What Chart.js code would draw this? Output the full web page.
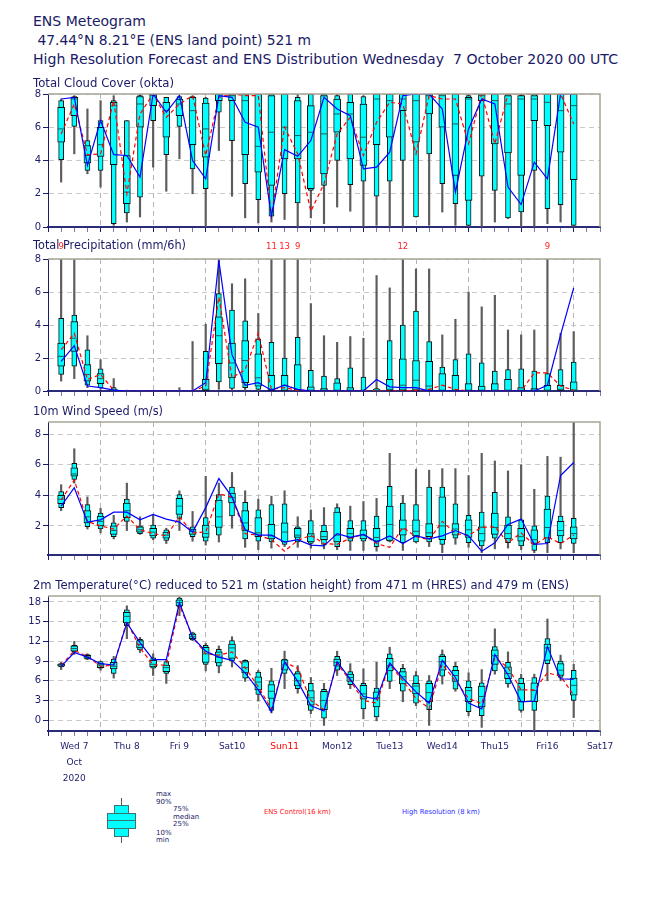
<!DOCTYPE html>
<html>
<head>
<meta charset="utf-8">
<script src="https://cdn.jsdelivr.net/npm/chart.js@4.4.0/dist/chart.umd.min.js"></script>
<style>
body{margin:0;background:#fff;width:650px;height:916px;position:relative;overflow:hidden;font-family:"DejaVu Sans",sans-serif;color:#1a1a66}
.t{position:absolute;white-space:pre;line-height:1;transform-origin:0 0}
canvas{position:absolute;left:0}
.lg{position:absolute;box-sizing:border-box}
.s{position:absolute;font-size:7px;line-height:1;white-space:pre;color:#1a1a66}
</style>
</head>
<body>
<canvas id="cloud" width="650" height="149" style="top:86px"></canvas>
<canvas id="precip" width="650" height="161" style="top:238px"></canvas>
<canvas id="wind" width="650" height="155" style="top:408px"></canvas>
<canvas id="temp" width="650" height="206" style="top:584px"></canvas>

<div class="t" style="left:33px;top:14px;font-size:14px" data-w="113">ENS Meteogram</div>
<div class="t" style="left:33px;top:33px;font-size:14px" data-w="278"> 47.44°N 8.21°E (ENS land point) 521 m</div>
<div class="t" style="left:33px;top:52px;font-size:14px" data-w="585">High Resolution Forecast and ENS Distribution Wednesday  7 October 2020 00 UTC</div>
<div class="t" style="left:33px;top:77px;font-size:12px" data-w="141">Total Cloud Cover (okta)</div>
<div class="t" style="left:33px;top:239px;font-size:12px" data-w="153">Total Precipitation (mm/6h)</div>
<div class="t" style="left:33px;top:405px;font-size:12px" data-w="130">10m Wind Speed (m/s)</div>
<div class="t" style="left:33px;top:579px;font-size:12px" data-w="536">2m Temperature(°C) reduced to 521 m (station height) from 471 m (HRES) and 479 m (ENS)</div>

<div class="lg" style="left:121px;top:798px;width:1px;height:45px;background:#555"></div>
<div class="lg" style="left:114px;top:805px;width:15px;height:9px;background:#00ffff;border:1px solid #3a7272"></div>
<div class="lg" style="left:114px;top:828px;width:15px;height:9px;background:#00ffff;border:1px solid #3a7272"></div>
<div class="lg" style="left:107px;top:813px;width:29px;height:16px;background:#00ffff;border:1px solid #3a7272"></div>
<div class="lg" style="left:107px;top:820px;width:29px;height:1px;background:#3a7272"></div>
<div class="s" style="left:156px;top:791px">max</div>
<div class="s" style="left:156px;top:799px">90%</div>
<div class="s" style="left:173px;top:806px">75%</div>
<div class="s" style="left:173px;top:814px">median</div>
<div class="s" style="left:173px;top:821px">25%</div>
<div class="s" style="left:156px;top:830px">10%</div>
<div class="s" style="left:156px;top:837px">min</div>
<div class="t" style="left:264px;top:809px;font-size:7px;color:#ff2020" data-w="67">ENS Control(16 km)</div>
<div class="t" style="left:402px;top:809px;font-size:7px;color:#3030ff" data-w="78">High Resolution (8 km)</div>

<script>
// forecast steps (hours after 7 Oct 2020 00 UTC)
const hours = [6,12,18,24,30,36,42,48,54,60,66,72,78,84,90,96,102,108,114,120,
               126,132,138,144,150,156,162,168,174,180,186,192,198,204,210,216,222,228,234,240];
const dayNames = ['Wed 7','Thu 8','Fri 9','Sat10','Sun11','Mon12','Tue13','Wed14','Thu15','Fri16','Sat17'];
const firstDayExtra = ['Oct','2020'];

// total cloud cover (okta)
const cloudMin = [2.7,4.4,3.2,2.4,0.1,0.3,0.6,3.6,2.15,4.1, 2.0,0,4.6,1.85,0.55,0.25,0.3,0.45,0,0.55, 0.2,1.2,0.95,0,0.1,0,0,0.6,0.1,0.9, 0.1,0,0,0.3,0.5,0,0,0.2,0.3,0];
const cloudP10 = [4.05,6.05,3.4,3.4,0.2,0.85,1.8,6.4,4.35,6.05, 3.5,2.3,6.9,5.2,2.6,1.65,0.65,2.0,1.45,2.2, 2.5,4.0,2.55,2.75,1.85,2.75,4.0,0.6,4.4,2.6, 1.4,0.1,3.05,2.2,0.55,0.9,3.4,1.1,1.35,0.1];
const cloudP25 = [5.1,6.7,3.85,4.25,3.75,1.4,6.0,7.3,5.4,6.7, 4.95,4.2,7.6,7.6,4.35,3.3,2.5,4.1,4.1,2.3, 3.2,5.7,4.1,3.7,4.95,5.4,7.0,5.1,6.8,6.0, 3.1,1.6,7.6,5.0,4.45,3.1,6.4,6.1,4.5,2.85];
const cloudMed = [5.9,7.7,4.3,4.95,7.3,2.1,7.4,7.9,7.0,7.4, 7.0,5.9,8,7.9,7.6,4.85,5.7,6.0,5.5,5.7, 5.6,6.8,6.8,5.4,7.7,7.6,7.7,7.6,7.9,7.9, 6.2,7.7,7.9,7.6,7.4,7.7,7.7,7.5,7.0,7.3];
const cloudP75 = [7.2,7.8,4.9,6.0,7.5,4.3,7.85,8,7.5,7.7, 7.8,7.45,8,8,8,8,7.9,8,7.6,7.3, 7.9,7.7,7.5,7.4,8,8,8,8,8,8, 8,7.8,8,8,7.9,7.9,7.9,8,8,8];
const cloudP90 = [7.6,7.85,5.2,6.4,7.6,6.4,7.9,8,7.8,7.85, 7.85,7.75,8,8,8,8,8,8,7.8,8, 8,7.9,8,7.85,8,8,8,8,8,8, 8,7.9,8,8,8,7.9,8,8,8,8];
const cloudMax = [7.7,7.9,7.1,7.6,7.9,6.4,8,8,7.8,7.9, 7.9,7.8,8,8,8,8,8,8,8,8, 8,8,8,7.9,8,8,8,8,8,8, 8,8,8,8,8,8,8,8,8,8];
const cloudCtrl = [5.6,7.4,4.35,4.4,7.6,2.0,6.8,8,6.6,7.4, 7.9,4.3,7.8,8,7.9,7.9,0.65,6.0,4.4,0.95, 2.6,5.6,6.6,4.3,6.3,7.5,7.4,4.4,7.9,7.7, 7.7,5.0,8,5.0,8,8,8,8,8,6.2];
const cloudHres = [7.7,7.8,3.7,6.4,4.35,4.3,3.0,8,6.9,7.9, 4.0,2.9,7.9,7.8,6.3,6.0,0.65,4.65,4.25,5.2, 7.8,7.1,6.7,3.5,3.6,4.5,7.9,8,8,7.1, 2.1,5.9,7.7,7.4,2.4,1.35,3.9,2.9,8,8];
const cloudTicks = [0,2,4,6,8];

// total precipitation (mm/6h)
const precipMin = [0.6,0.75,0.2,0.1,0,0,0,0,0,0, 0,0,0.1,0.05,0,0,0,0,0,0, 0,0,0,0,0,0,0,0,0,0, 0,0,0,0,0,0,0,0,0,0];
const precipP10 = [1.0,1.5,0.35,0.2,0,0,0,0,0,0, 0,0,0.55,0.15,0.2,0.1,0,0,0,0, 0,0,0,0,0,0,0,0,0,0, 0,0,0,0,0,0,0,0,0,0];
const precipP25 = [1.5,2.4,0.6,0.45,0,0,0,0,0,0, 0,0,1.65,0.8,0.5,0.3,0,0,0,0, 0,0,0,0,0,0,0.05,0.05,0,0, 0,0,0,0,0,0,0,0,0,0];
const precipMed = [2.1,3.2,1.0,0.75,0.05,0,0,0,0,0, 0,0.1,3.35,1.7,1.85,0.8,0.1,0.35,0,0, 0,0,0,0,0,0.1,0.35,0.65,0.3,0, 0,0,0,0,0,0,0,0,0.1,0.05];
const precipP75 = [2.9,4.2,1.6,1.05,0.1,0,0,0,0,0, 0,0.7,4.5,2.9,3.05,2.25,0.95,0.95,1.6,0.25, 0.15,0.5,0.2,0.05,0.1,0.7,1.95,1.85,1.8,1.05, 0.95,0.45,0.3,0.45,0.7,0.2,0.15,0.35,0.35,0.55];
const precipP90 = [4.4,4.6,2.5,1.35,0.2,0,0,0,0,0, 0,2.4,5.9,4.9,4.25,3.15,2.95,2.0,3.25,1.25, 0.9,0.75,1.4,0.85,0.15,3.05,4.0,4.85,3.0,1.45, 1.9,2.25,1.7,1.2,1.3,1.35,1.2,1.05,1.3,1.75];
const precipMax = [9,8.0,3.35,1.9,0.75,0.05,0,0,0,0.2, 3.0,4.05,8.0,6.5,6.8,4.7,11,13,9,5.3, 3.35,2.95,3.3,3.2,7.0,6.25,12,7.4,7.4,3.4, 4.35,6.0,5.1,5.8,3.7,3.4,3.7,9,3.5,3.6];
const precipCtrl = [2.5,3.5,0.7,1.0,0.05,0,0,0,0,0, 0,0.3,5.7,0.8,1.3,3.5,0.1,0.2,0.05,0, 0,0,0,0,0,0,0,0.05,0.1,0.35, 0.1,0,0,0,0,0,1.1,1.1,0.3,0.05];
const precipHres = [1.8,2.75,0.3,0.2,0.05,0,0,0,0,0, 0,0.5,7.9,2.2,0.35,0.5,0.05,0.35,0.1,0, 0,0,0,0,0.7,0.25,0.2,0.2,0,0, 0,0,0,0,0,0,0,0.35,3.4,6.25];
const precipTicks = [0,2,4,6,8];

// 10m wind speed (m/s)
const windMin = [3.0,4.8,1.8,1.55,1.15,1.7,1.45,1.1,0.85,1.7, 1.0,0.75,0.95,1.85,0.6,0.45,0.55,0.65,0.6,0.55, 0.5,0.45,0.4,0.4,0.35,0.95,0.4,0.9,0.65,0.25, 0.8,0.6,0.25,0.5,0.55,0.45,0.25,0.25,0.5,0.25];
const windP10 = [3.2,5.05,1.95,1.8,1.3,2.3,1.5,1.2,1.05,2.5, 1.3,1.0,1.4,2.65,1.15,1.0,0.95,0.8,0.95,0.85, 0.8,0.65,1.0,1.0,0.65,1.0,0.9,0.95,0.95,0.8, 1.2,0.9,0.7,1.2,0.9,0.7,0.4,0.9,0.9,0.85];
const windP25 = [3.45,5.25,2.2,2.0,1.45,2.55,1.6,1.35,1.2,2.75, 1.45,1.25,1.9,3.5,1.7,1.3,1.15,0.95,1.25,0.95, 1.1,0.95,1.2,1.15,1.0,1.05,1.4,1.35,1.3,1.1, 1.4,1.25,1.0,1.45,1.15,1.0,0.85,1.2,1.35,1.15];
const windMed = [3.75,5.4,2.6,2.3,1.7,3.0,1.75,1.6,1.4,3.3, 1.65,1.5,2.6,3.85,2.2,1.55,1.35,1.6,1.4,1.3, 1.3,1.4,1.5,1.4,1.25,2.1,1.8,1.65,1.55,2.0, 1.8,1.75,1.5,1.9,1.5,1.3,1.1,1.9,1.7,1.5];
const windP75 = [4.0,5.8,3.0,2.65,2.0,3.5,1.95,1.85,1.6,3.8, 1.8,2.05,3.7,4.15,3.0,2.55,2.1,2.2,1.85,1.5, 1.65,2.9,1.85,1.75,1.85,3.3,2.4,2.4,2.15,3.9, 2.15,2.4,1.95,2.85,2.05,1.85,1.75,3.1,2.3,1.95];
const windP90 = [4.25,6.1,3.4,2.85,2.2,3.75,2.0,2.05,1.75,4.05, 1.95,2.55,4.05,4.55,3.55,3.05,3.4,3.45,1.95,2.35, 2.05,3.2,2.35,2.35,2.65,4.6,3.5,3.4,4.55,4.55, 3.45,2.7,2.9,4.2,2.6,2.4,2.0,3.95,2.65,2.5];
const windMax = [4.7,7.05,3.9,3.15,2.7,4.8,2.6,2.7,1.85,4.3, 2.95,5.25,4.8,5.5,4.3,3.75,3.95,4.3,2.6,3.05, 3.2,3.45,3.3,3.6,3.8,6.75,4.0,5.7,5.65,5.75, 5.75,5.3,6.75,6.25,5.6,6.0,4.4,6.55,6.5,9.5];
const windCtrl = [3.7,5.0,2.3,2.0,1.8,2.65,1.75,1.5,1.35,2.6, 1.55,1.6,4.1,3.9,1.5,1.4,1.1,0.35,1.05,1.4, 0.85,0.8,1.2,1.45,0.85,0.6,1.9,1.3,1.1,2.3, 1.5,1.4,1.9,1.95,0.9,1.55,0.75,1.3,0.85,1.4];
const windHres = [3.3,4.5,2.25,2.4,2.9,2.9,2.4,2.75,2.45,2.25, 1.6,3.2,5.1,3.9,1.75,1.4,1.4,0.95,1.1,0.75, 0.7,1.5,1.25,1.45,0.95,1.35,0.85,1.35,1.15,1.35, 1.7,1.35,0.35,0.9,2.1,2.45,0.8,0.85,5.3,6.15];
const windTicks = [2,4,6,8];

// 2m temperature (°C)
const tempMin = [7.7,10.0,9.2,7.6,6.4,12.4,10.3,6.8,5.6,15.9, 12.1,7.5,7.2,8.1,5.9,2.9,1.1,4.8,4.1,1.0, -0.8,6.8,4.8,0.2,-0.1,4.8,2.8,2.2,-0.8,5.5, 4.4,0.7,-1.1,7.0,5.0,1.2,-1.7,6.0,6.0,0.4];
const tempP10 = [8.1,10.4,9.3,7.9,7.1,14.4,10.7,7.9,7.1,17.2, 12.2,8.5,8.2,9.0,6.4,3.9,1.5,7.1,4.8,1.5, 0.3,7.6,5.4,1.7,0.5,5.9,4.4,2.6,1.6,6.7, 4.7,1.3,0.7,7.5,5.5,1.5,1.5,8.6,6.5,3.0];
const tempP25 = [8.2,10.5,9.4,8.0,7.8,14.8,11.0,8.1,7.4,17.4, 12.4,8.8,8.7,9.4,7.2,4.6,3.3,7.6,5.2,2.3, 1.6,8.2,5.9,3.2,2.0,7.5,5.5,4.0,2.8,7.6, 5.9,2.8,2.0,8.5,6.3,2.8,2.8,9.1,6.8,3.8];
const tempMed = [8.4,10.9,9.6,8.4,8.2,15.8,11.5,8.5,8.0,17.9, 12.7,10.1,9.6,11.0,8.0,5.8,4.4,8.4,6.0,3.4, 3.0,8.8,6.5,4.0,3.4,8.3,6.6,5.2,4.2,8.9, 6.8,4.5,3.6,9.8,7.1,4.6,4.5,11.0,7.6,5.3];
const tempP75 = [8.55,11.3,9.85,8.6,8.8,16.4,12.1,9.1,8.4,18.3, 13.1,11.1,10.4,11.6,8.9,6.6,5.4,9.2,7.1,4.5, 4.4,9.3,7.0,5.3,4.3,9.4,7.4,5.6,5.6,9.7, 7.6,5.0,5.2,10.7,8.1,5.6,5.7,11.6,8.6,6.4];
const tempP90 = [8.6,11.4,10.0,8.9,9.3,16.8,12.3,9.5,8.9,18.6, 13.3,11.4,10.8,12.1,9.1,7.3,6.0,9.3,7.4,5.6, 4.7,9.7,7.4,5.6,4.9,10.1,7.9,6.8,6.0,10.0, 8.2,6.0,5.7,11.2,8.8,6.4,6.5,12.4,9.0,7.6];
const tempMax = [8.8,12.0,10.1,9.0,9.7,17.4,12.6,10.1,9.1,18.8, 13.4,11.7,11.3,12.7,9.2,7.6,7.9,10.5,8.3,6.5, 5.6,10.5,8.6,7.8,8.8,11.1,8.5,7.4,6.8,10.7, 8.8,7.2,7.7,13.9,10.4,7.0,7.0,15.4,9.9,8.5];
const tempCtrl = [8.3,10.6,9.7,8.2,8.4,15.0,11.0,8.4,8.4,17.5, 12.7,10.1,9.9,10.4,8.0,5.1,1.7,8.8,7.9,3.0, 1.6,8.6,6.0,3.0,2.6,8.5,6.0,3.3,1.8,8.5, 6.0,3.3,2.5,9.5,8.0,4.6,4.6,7.2,6.7,3.8];
const tempHres = [8.2,10.3,9.6,8.6,8.4,14.8,11.8,9.2,9.2,17.9, 12.6,10.5,9.6,9.1,7.2,4.6,1.3,8.9,5.9,2.2, 1.4,8.9,6.2,3.6,3.2,8.7,6.4,4.3,2.6,9.1, 6.5,2.6,1.7,10.0,6.9,2.8,2.9,11.2,6.3,6.2];
const tempTicks = [0,3,6,9,12,15,18];

const NAVY = '#1c1c6c';
const xTicks = [];
for (let h = 0; h <= 252; h += 6) xTicks.push(h);

const pts = arr => hours.map((h, i) => ({x: h, y: arr[i]}));
const rng = (a, b) => hours.map((h, i) => ({x: h, y: [a[i], b[i]]}));

function boxSets(mn, p10, p25, med, p75, p90, mx, ctrl, hres) {
    return [
        {type: 'bar', data: rng(mn, mx), backgroundColor: '#5c5c5c', barThickness: 1.5, grouped: false, clip: 0, order: 6},
        {type: 'bar', data: rng(p10, p90), backgroundColor: '#00ffff', borderColor: '#111', borderWidth: 1,
         borderSkipped: false, barThickness: 5, grouped: false, clip: 0, order: 5},
        {type: 'bar', data: rng(p25, p75), backgroundColor: '#00ffff', borderColor: '#111', borderWidth: 1,
         borderSkipped: false, barThickness: 7, grouped: false, clip: 0, order: 4},
        {type: 'line', data: pts(med), showLine: false, pointStyle: 'line', pointRadius: 3.5,
         pointBorderColor: '#1f5c5c', pointBorderWidth: 1, order: 3},
        {type: 'line', data: pts(ctrl), borderColor: '#ff0000', borderWidth: 1.2, borderDash: [4, 3],
         pointRadius: 0, order: 2},
        {type: 'line', data: pts(hres), borderColor: '#0000ff', borderWidth: 1.2, pointRadius: 0, order: 1}
    ];
}

// top and right frame of the plot area
const frame = {
    id: 'frame',
    afterDatasetsDraw(chart) {
        const {ctx, chartArea: a} = chart;
        ctx.save();
        ctx.strokeStyle = '#a8a496';
        ctx.lineWidth = 1.5;
        ctx.beginPath();
        ctx.moveTo(a.left, a.top);
        ctx.lineTo(a.right, a.top);
        ctx.lineTo(a.right, a.bottom);
        ctx.stroke();
        ctx.restore();
    }
};

function makeChart(id, sets, yMin, yMax, yTicks, padTop, xHeight, showLabels, extraPlugins) {
    return new Chart(document.getElementById(id), {
        type: 'bar',
        data: {datasets: sets},
        options: {
            responsive: false,
            animation: false,
            events: [],
            layout: {padding: {top: padTop, right: 50, left: 0, bottom: 0}},
            plugins: {legend: {display: false}, tooltip: {enabled: false}},
            scales: {
                x: {
                    type: 'linear', min: 0, max: 252, offset: false,
                    afterBuildTicks: sc => { sc.ticks = xTicks.map(v => ({value: v})); },
                    afterFit: sc => { sc.height = xHeight; },
                    grid: {
                        offset: false,
                        color: c => (c.tick && c.tick.value % 24 === 0 && c.tick.value > 0 && c.tick.value < 252) ? '#b4b4b4' : 'rgba(0,0,0,0)',
                        tickColor: c => (c.tick && c.tick.value % 24 === 0) ? NAVY : '#7a7aa8',
                        tickLength: 5
                    },
                    border: {color: '#2b2b7a', width: 2, dash: [5, 4]},
                    ticks: {
                        display: showLabels, autoSkip: false, maxRotation: 0, padding: 3,
                        font: {family: 'DejaVu Sans', size: 9, lineHeight: 1.75},
                        color: c => (c.tick && c.tick.value === 108) ? '#ff0000' : NAVY,
                        callback: v => {
                            if (v % 24 !== 12) return '';
                            const i = (v - 12) / 24;
                            return i === 0 ? [dayNames[0]].concat(firstDayExtra) : dayNames[i];
                        }
                    }
                },
                y: {
                    min: yMin, max: yMax,
                    afterBuildTicks: sc => { sc.ticks = yTicks.map(v => ({value: v})); },
                    afterFit: sc => { sc.width = 48; },
                    grid: {color: '#c8c8c8', tickColor: NAVY, tickLength: 5},
                    border: {color: NAVY, width: 1, dash: [5, 4]},
                    ticks: {color: NAVY, padding: 2, font: {family: 'DejaVu Sans', size: 10}}
                }
            }
        },
        plugins: [frame].concat(extraPlugins || [])
    });
}

// red numbers above the precipitation panel for maxima beyond the scale
const overLabels = {
    id: 'overLabels',
    afterDraw(chart) {
        const {ctx, chartArea: a} = chart;
        const xs = chart.scales.x, ys = chart.scales.y;
        ctx.save();
        ctx.fillStyle = '#ff2020';
        ctx.font = '8.5px "DejaVu Sans"';
        ctx.textAlign = 'center';
        ctx.textBaseline = 'middle';
        precipMax.forEach((m, i) => {
            if (m > ys.max) ctx.fillText(String(Math.round(m)), xs.getPixelForValue(hours[i]), a.top - 12);
        });
        ctx.restore();
    }
};

makeChart('cloud', boxSets(cloudMin, cloudP10, cloudP25, cloudMed, cloudP75, cloudP90, cloudMax, cloudCtrl, cloudHres),
    0, 8, cloudTicks, 8, 6, false);
makeChart('precip', boxSets(precipMin, precipP10, precipP25, precipMed, precipP75, precipP90, precipMax, precipCtrl, precipHres),
    0, 8, precipTicks, 21, 6, false, [overLabels]);
makeChart('wind', boxSets(windMin, windP10, windP25, windMed, windP75, windP90, windMax, windCtrl, windHres),
    0.1, 8.8, windTicks, 14, 6, false);
makeChart('temp', boxSets(tempMin, tempP10, tempP25, tempMed, tempP75, tempP90, tempMax, tempCtrl, tempHres),
    -1.65, 18.9, tempTicks, 12, 59, true);

// squeeze titles to the widths seen in the original
document.querySelectorAll('[data-w]').forEach(el => {
    const w = el.getBoundingClientRect().width;
    el.style.transform = 'scaleX(' + (el.dataset.w / w) + ')';
});
</script>
</body>
</html>
